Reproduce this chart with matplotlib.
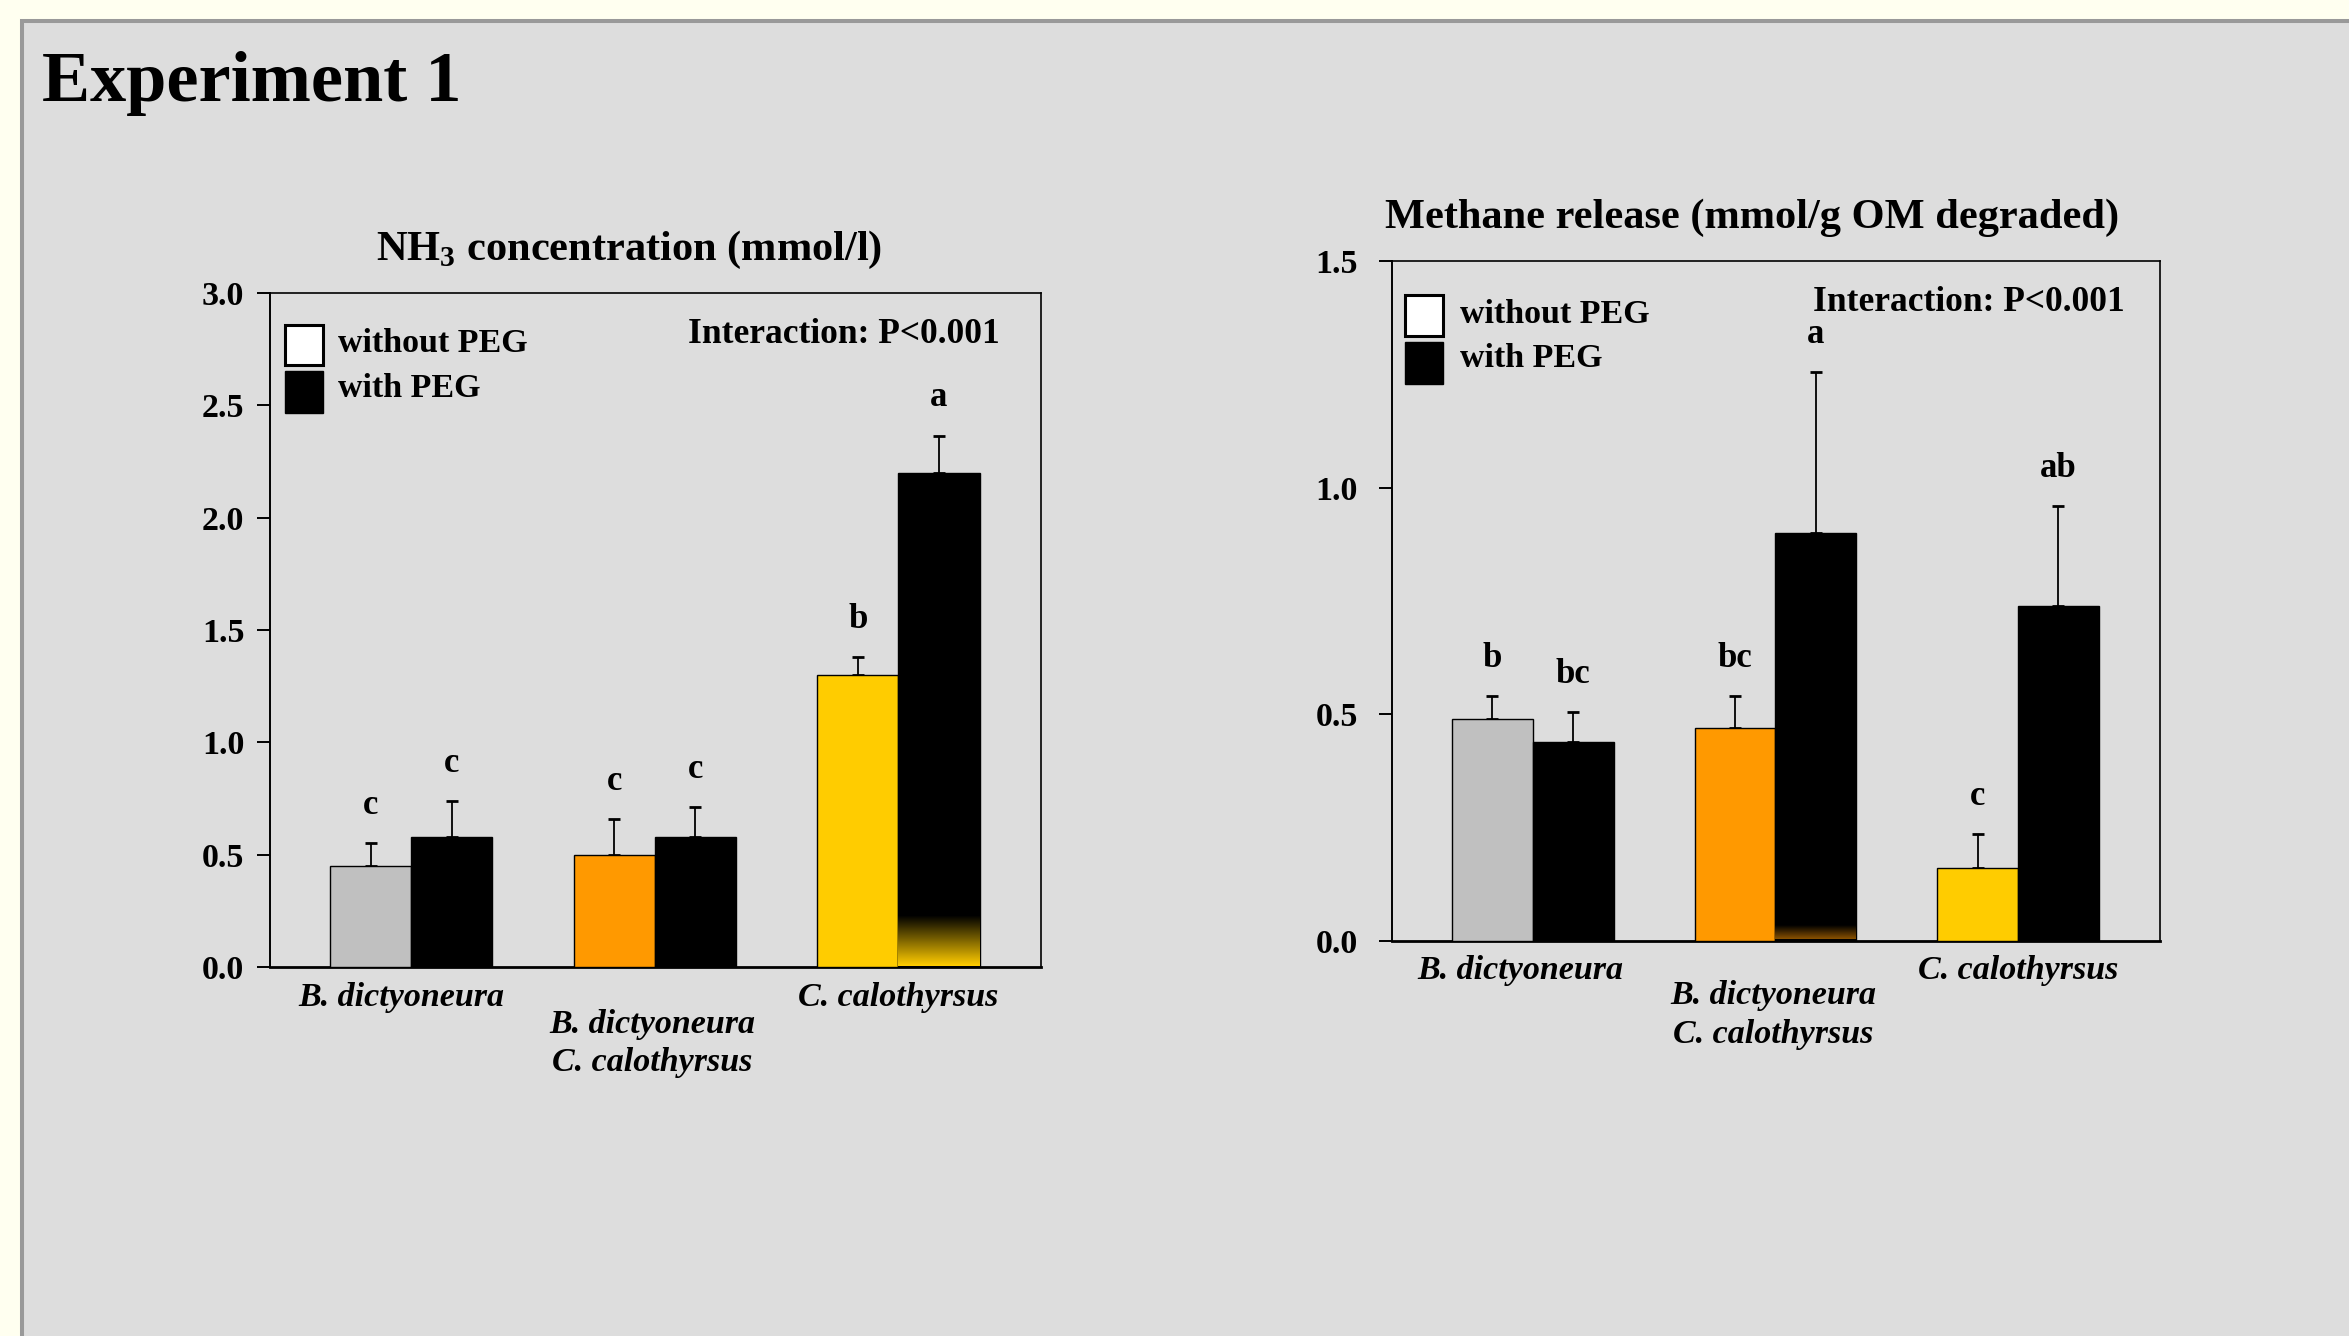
import numpy as np
import matplotlib
matplotlib.use("Agg")
import matplotlib.pyplot as plt
from matplotlib.patches import Rectangle
from matplotlib.colors import LinearSegmentedColormap

# ---- data ----
groups = ["B. dictyoneura", "B. dictyoneura\nC. calothyrsus", "C. calothyrsus"]
group_colors = ["#C0C0C0", "#FF9900", "#FFCC00"]

nh3_without = [0.45, 0.50, 1.30]
nh3_without_err = [0.10, 0.16, 0.08]
nh3_with = [0.58, 0.58, 2.20]
nh3_with_err = [0.16, 0.13, 0.165]
nh3_letters_without = ["c", "c", "b"]
nh3_letters_with = ["c", "c", "a"]

ch4_without = [0.49, 0.47, 0.16]
ch4_without_err = [0.05, 0.07, 0.076]
ch4_with = [0.44, 0.90, 0.74]
ch4_with_err = [0.065, 0.355, 0.22]
ch4_letters_without = ["b", "bc", "c"]
ch4_letters_with = ["bc", "a", "ab"]

plt.rcParams.update({
    "font.family": "Liberation Serif",
    "font.weight": "bold",
    "mathtext.fontset": "custom",
    "mathtext.rm": "Liberation Serif:bold",
    "mathtext.bf": "Liberation Serif:bold",
})

W, H = 2349, 1336
fig = plt.figure(figsize=(W / 100, H / 100), dpi=100, facecolor="#FFFFF0")

# grey slide panel with border
fig.patches.append(Rectangle((22 / W, -0.05), 1.2, 1 - 21 / H + 0.05,
                             transform=fig.transFigure, facecolor="#DDDDDD",
                             edgecolor="#999999", lw=2.9, zorder=-5))

fig.text(42 / W, 1 - 83 / H, "Experiment 1", fontsize=52, fontweight="bold",
         ha="left", va="center")

BW = 0.333


def panel(rect, without, without_err, with_, with_err, let_wo, let_w, ymax,
          leg, inter, xlab, ytick_pad, shade):
    ax = fig.add_axes(rect)
    ax.set_facecolor("none")
    x = np.arange(len(groups))
    ax.bar(x - BW / 2, without, BW, color=group_colors, edgecolor="black",
           lw=1.0, zorder=3)
    ax.bar(x + BW / 2, with_, BW, color="black", edgecolor="black", lw=1.0,
           zorder=3)
    ax.errorbar(x - BW / 2, without, yerr=[np.zeros(3), without_err], fmt="none",
                ecolor="black", elinewidth=1.3, capsize=4.5, capthick=2, zorder=2)
    ax.errorbar(x + BW / 2, with_, yerr=[np.zeros(3), with_err], fmt="none",
                ecolor="black", elinewidth=1.3, capsize=4.5, capthick=2, zorder=2)

    # rendering shade at the bottom of one black bar
    gi, top, c0 = shade
    cmap = LinearSegmentedColormap.from_list("sh", [c0, "black"])
    grad = np.linspace(0, 1, 64).reshape(-1, 1)
    ax.imshow(grad, extent=[x[gi], x[gi] + BW, 0.004, top], origin="lower",
              cmap=cmap, aspect="auto", zorder=4)

    for xi, v, e, t in zip(x - BW / 2, without, without_err, let_wo):
        ax.annotate(t, (xi, v + e), xytext=(0, 21), textcoords="offset points",
                    ha="center", va="baseline", fontsize=25, fontweight="bold")
    for xi, v, e, t in zip(x + BW / 2, with_, with_err, let_w):
        ax.annotate(t, (xi, v + e), xytext=(0, 21), textcoords="offset points",
                    ha="center", va="baseline", fontsize=25, fontweight="bold")

    ax.set_xlim(-0.58, 2.585)
    ax.set_ylim(0, ymax)
    ax.set_yticks(np.arange(0, ymax + 0.01, 0.5))
    ax.set_yticklabels([f"{t:.1f}" for t in np.arange(0, ymax + 0.01, 0.5)])
    ax.set_xticks([])
    ax.tick_params(axis="y", direction="out", length=9.5, width=1.4,
                   labelsize=24.5, pad=ytick_pad)
    for s in ["top", "right"]:
        ax.spines[s].set_linewidth(1.2)
    ax.spines["left"].set_linewidth(1.4)
    ax.spines["bottom"].set_linewidth(2.0)

    # group labels
    for xi, lab, (dx, dy) in zip(x, groups, xlab):
        ax.annotate(lab, (xi + dx, 0), xycoords=("data", "axes fraction"),
                    xytext=(0, -dy), textcoords="offset points", ha="center",
                    va="center", fontsize=24.5, fontweight="bold",
                    style="italic", linespacing=1.3)

    # legend
    bx0, bx1, wtop, wbot, btop, bbot, tx, ty1, ty2 = leg
    ax.add_patch(Rectangle((bx0, wbot), bx1 - bx0, wtop - wbot,
                           transform=ax.transAxes, facecolor="white",
                           edgecolor="black", lw=2.2, zorder=5))
    ax.add_patch(Rectangle((bx0, bbot), bx1 - bx0, btop - bbot,
                           transform=ax.transAxes, facecolor="black",
                           edgecolor="black", lw=1.0, zorder=5))
    ax.text(tx, ty1, "without PEG", transform=ax.transAxes, fontsize=24.5,
            ha="left", va="center")
    ax.text(tx, ty2, "with PEG", transform=ax.transAxes, fontsize=24.5,
            ha="left", va="center")
    ax.text(inter[0], inter[1], "Interaction: P<0.001", transform=ax.transAxes,
            fontsize=25.5, ha="right", va="center")
    return ax


panel([270 / W, 1 - 967 / H, 771 / W, 674 / H],
      nh3_without, nh3_without_err, nh3_with, nh3_with_err,
      nh3_letters_without, nh3_letters_with, 3.0,
      (0.0192, 0.0687, 0.9525, 0.8932, 0.8847, 0.822, 0.088, 0.9258, 0.859),
      (0.946, 0.939),
      [(-0.04, 22.3), (-0.01, 55.0), (0.0, 22.3)], 9, (2, 0.23, "#FFCC00"))

panel([1392 / W, 1 - 941 / H, 768 / W, 680 / H],
      ch4_without, ch4_without_err, ch4_with, ch4_with_err,
      ch4_letters_without, ch4_letters_with, 1.5,
      (0.0169, 0.0658, 0.950, 0.890, 0.881, 0.8187, 0.088, 0.9206, 0.857),
      (0.954, 0.9387),
      [(-0.05, 20.9), (-0.01, 53.3), (0.0, 20.9)], 15, (1, 0.034, "#8A5200"))

fig.text(629 / W, 1 - 250 / H, r"NH$_{3}$ concentration (mmol/l)", fontsize=30.5,
         ha="center", va="center")
fig.text(1752 / W, 1 - 218 / H, "Methane release (mmol/g OM degraded)",
         fontsize=30.5, ha="center", va="center")

fig.savefig("out.png", dpi=100, facecolor=fig.get_facecolor())
